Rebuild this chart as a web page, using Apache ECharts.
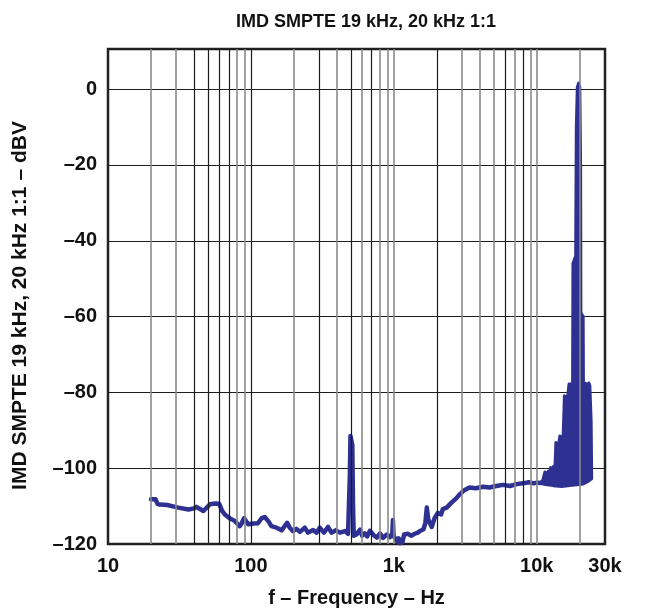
<!DOCTYPE html>
<html>
<head>
<meta charset="utf-8">
<script src="https://cdn.jsdelivr.net/npm/echarts@6/dist/echarts.min.js"></script>
<style>
  html, body { margin: 0; padding: 0; background: #fff; }
  #chart { width: 647px; height: 609px; }
</style>
</head>
<body>
<div id="chart"></div>
<script>
// ---- data ----
const titleText = 'IMD SMPTE 19 kHz, 20 kHz 1:1';
const xName = 'f – Frequency – Hz';
const yName = 'IMD SMPTE 19 kHz, 20 kHz 1:1 – dBV';

// main trace, 20 Hz .. 10.5 kHz
const freq = [20, 21.5, 22.2, 23, 26, 28, 31, 36.5, 40, 41.5, 46.5, 48, 51.7, 56, 60, 63, 65.7, 71, 77, 83.5,
  86, 89.5, 95.7, 104, 112, 119, 125, 132, 139, 151, 164, 179, 187, 197, 208, 220, 238, 251, 272, 288,
  303, 324, 346, 366, 393, 420, 455, 478, 487, 492, 497, 505, 512, 518, 524, 535, 550, 565, 580, 600,
  625, 650, 680, 720, 760, 800, 840, 890, 940, 975, 985, 995, 1010, 1050, 1080, 1100, 1150, 1180, 1250, 1320,
  1400, 1470, 1520, 1610, 1660, 1700, 1740, 1790, 1840, 1930, 2030, 2140, 2200, 2340, 2530, 2740, 2890, 3110, 3380, 3750,
  4200, 4670, 5200, 5800, 6500, 7200, 8000, 8800, 9500, 10000, 10500];
const dbv = [-108.2, -108.2, -109.4, -109.6, -109.7, -110.0, -110.4, -110.9, -110.6, -110.2, -111.3, -111.2, -109.5, -109.3, -109.4, -111.3, -112.2, -113.2, -113.9, -115.3,
  -114.6, -113.2, -114.8, -114.6, -114.5, -113.2, -112.9, -113.9, -115.3, -115.7, -116.4, -114.4, -115.7, -116.6, -116.0, -116.8, -115.7, -117.0, -116.3, -117.0,
  -115.7, -117.0, -115.5, -117.0, -116.4, -117.0, -116.6, -117.3, -117.0, -102.0, -91.5, -91.0, -94.0, -110.0, -117.8, -117.9, -117.4, -117.6, -116.2, -117.8,
  -117.2, -118.0, -116.5, -117.6, -118.3, -117.2, -118.4, -117.5, -118.2, -117.2, -113.7, -117.9, -118.3, -119.2, -118.5, -119.8, -119.4, -117.5, -117.3, -117.8,
  -117.3, -117.0, -116.6, -116.1, -114.5, -110.4, -113.5, -114.0, -115.5, -113.1, -111.8, -112.2, -110.8, -110.4, -109.1, -107.9, -106.9, -105.8, -105.1, -105.3,
  -104.9, -105.1, -104.7, -104.4, -104.7, -104.2, -104.0, -103.7, -104.0, -103.8, -103.9];

// dense IMD band 10.5 kHz .. 24 kHz: upper and lower envelopes
const upperFreq = [10500, 11000, 11400, 11600, 12000, 12200, 12500, 12800, 13100, 13400, 13600, 14000, 14300, 14500, 15000, 15300, 15600, 16000, 16500, 16800, 17800, 17900, 18700, 18900, 19200, 19600, 20000, 20250, 20350, 21100, 21200, 22000, 22600, 23100, 23500, 24000, 24200];
const upperDb   = [-103.9, -103.2, -101.0, -102.5, -100.8, -102.0, -99.8, -101.0, -99.5, -99.8, -93.2, -94.0, -93.0, -91.5, -92.0, -91.3, -80.9, -81.5, -80.6, -77.8, -77.8, -46.0, -44.0, -10.0, 0.5, 1.6, 0.5, -20.0, -59.0, -60.0, -78.2, -77.6, -78.6, -77.5, -78.2, -87.6, -102.4];
const lowerFreq = [24200, 23000, 21000, 19000, 17000, 15000, 13000, 11500, 10500];
const lowerDb   = [-102.8, -103.4, -104.2, -104.4, -104.6, -104.8, -104.6, -104.3, -104.0];

// vertical grid lines and their shade in the reference
const gridFreq  = [20, 30, 40, 50, 60, 70, 80, 90, 100, 200, 300, 400, 500, 600, 700, 800, 900, 1000, 2000, 3000, 4000, 5000, 6000, 7000, 8000, 9000, 10000, 20000];
const gridDark  = [0, 0, 1, 1, 1, 1, 0, 0, 1, 0, 1, 0, 1, 0, 1, 0, 0, 0, 1, 0, 0, 0, 1, 0, 1, 0, 0, 0];

const yMin = -120, yMax = 10.6, yStep = 20;
const xMin = 10, xMax = 30000;

// ---- chart ----
const FONT = 'Liberation Sans, Arial, sans-serif';
const LINE = '#2e3192';
const chart = echarts.init(document.getElementById('chart'), null, { renderer: 'canvas' });

const mainData = freq.map((f, i) => [f, dbv[i]]);
const markData = gridFreq.map((f, i) => ({
  xAxis: f,
  lineStyle: gridDark[i] ? { color: '#1c1c1c', width: 1.2, type: 'solid' } : { color: '#8a8a8a', width: 1.6, type: 'solid' }
}));

function fmtX(v) {
  const r = Math.round(v);
  if (r >= 1000) return Math.round(r / 1000) + 'k';
  return String(r);
}

chart.setOption({
  animation: false,
  backgroundColor: '#fff',
  title: {
    text: titleText,
    left: 361, top: 8, textAlign: 'center',
    textStyle: { fontFamily: FONT, fontWeight: 'bold', fontSize: 18, color: '#111' }
  },
  grid: {
    left: 108, right: 42, top: 49, bottom: 65,
    outerBoundsMode: 'none', containLabel: false,
    show: true, borderColor: '#222', borderWidth: 2.5, backgroundColor: 'transparent'
  },
  xAxis: {
    type: 'log', logBase: 10, min: xMin, max: xMax,
    name: xName, nameLocation: 'middle', nameGap: 44,
    nameTextStyle: { fontFamily: FONT, fontWeight: 'bold', fontSize: 20, color: '#111' },
    axisLine: { show: false }, axisTick: { show: false },
    splitLine: { show: false }, minorTick: { show: false }, minorSplitLine: { show: false },
    axisLabel: {
      fontFamily: FONT, fontWeight: 'bold', fontSize: 20, color: '#111', margin: 12,
      formatter: fmtX, showMinLabel: true, showMaxLabel: true
    }
  },
  yAxis: {
    type: 'value', min: yMin, max: yMax, interval: yStep,
    name: yName, nameLocation: 'middle', nameGap: 77, nameRotate: 90,
    nameTextStyle: { fontFamily: FONT, fontWeight: 'bold', fontSize: 21, color: '#111', padding: [0, 18, 0, 0] },
    axisLine: { show: false }, axisTick: { show: false },
    splitLine: { show: true, lineStyle: { color: '#1c1c1c', width: 1.2 } },
    axisLabel: {
      fontFamily: FONT, fontWeight: 'bold', fontSize: 20, color: '#111', margin: 11,
      formatter: v => (v > 5 ? '' : (v < 0 ? '–' + Math.abs(Math.round(v)) : String(Math.round(v))))
    }
  },
  series: [
    {
      type: 'line', z: 1, data: [], silent: true,
      markLine: { silent: true, symbol: ['none', 'none'], label: { show: false }, animation: false, data: markData }
    },
    {
      type: 'custom', z: 3, silent: true, clip: true,
      data: [[upperFreq[0], upperDb[0]]],
      encode: { x: 0, y: 1 },
      renderItem: function (params, api) {
        const pts = [];
        upperFreq.forEach((f, i) => pts.push(api.coord([f, upperDb[i]])));
        lowerFreq.forEach((f, i) => pts.push(api.coord([f, lowerDb[i]])));
        return {
          type: 'polygon',
          shape: { points: pts },
          style: { fill: LINE, stroke: LINE, lineWidth: 3, lineJoin: 'round' }
        };
      }
    },
    {
      type: 'line', z: 4, data: mainData, showSymbol: false, symbol: 'none', silent: true,
      lineStyle: { color: LINE, width: 4.5, join: 'round', cap: 'round' }
    }
  ]
});
</script>
</body>
</html>
